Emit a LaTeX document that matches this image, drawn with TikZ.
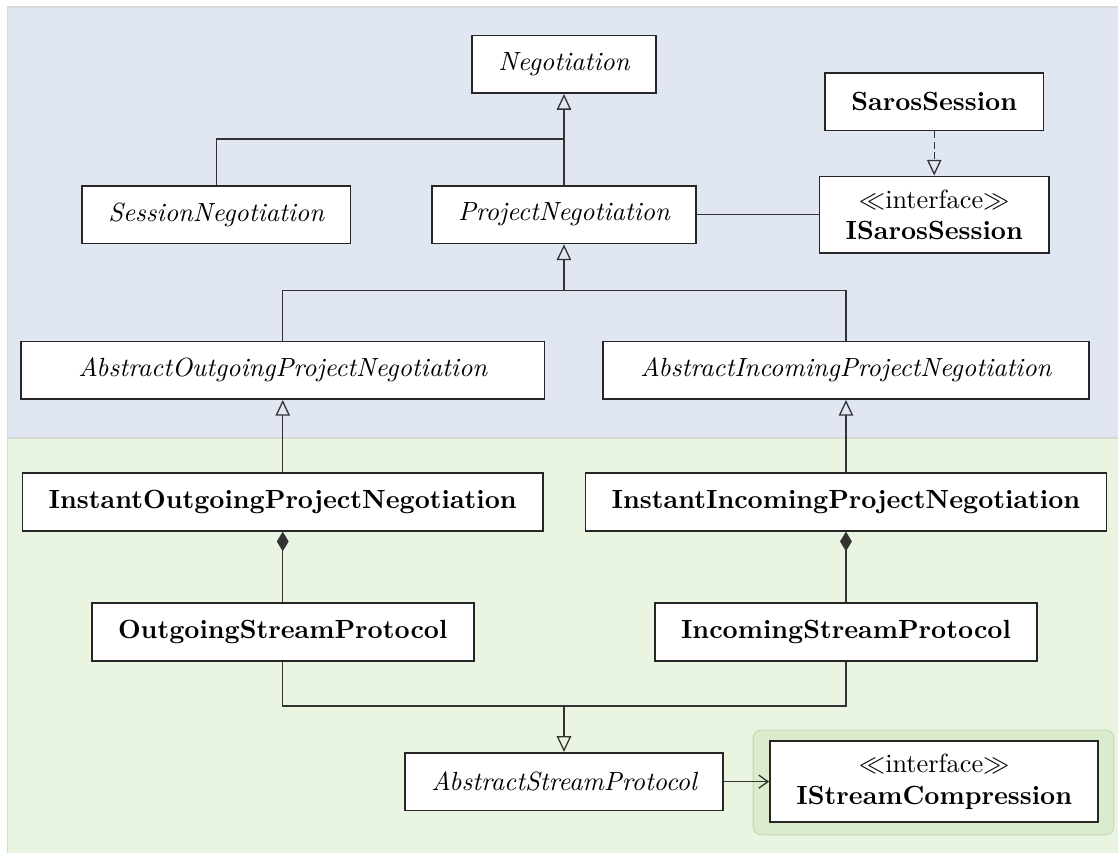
\documentclass[tikz,border=0pt]{standalone}
\usetikzlibrary{arrows.meta}
\definecolor{pkgblue}{RGB}{224,231,243}
\definecolor{pkggreen}{RGB}{233,245,225}
\definecolor{hlgreen}{RGB}{218,236,204}
\definecolor{hlborder}{RGB}{200,218,188}

\begin{document}
\begin{tikzpicture}[
    cls/.style={draw=black!85, line width=0.6pt, fill=white, align=center, inner xsep=10pt, inner ysep=6pt, minimum height=22pt},
    abscls/.style={cls, font=\itshape},
    impcls/.style={cls, font=\bfseries},
    ifcls/.style={cls, inner ysep=5pt},
    line/.style={draw=black!80, line width=0.5pt},
    inherit/.style={line, -{Triangle[open, length=6pt, width=5.5pt]}},
    realize/.style={inherit, dash pattern=on 2.5pt off 1.5pt},
    compose/.style={line, {Diamond[length=7.5pt, width=4.5pt]}-},
    usearrow/.style={line, -{Straight Barb[length=3.5pt, width=5pt]}}
]
\useasboundingbox (0,0) rectangle (14.947,-11.404);
\clip (0,0) rectangle (14.947,-11.404);

% Paquetes de fondo
\draw[black!15, fill=pkgblue] (0.094,-0.094) rectangle (15.5,-5.856);
\draw[black!15, fill=pkggreen] (0.094,-5.856) rectangle (15.5,-12);
\draw[hlborder, fill=hlgreen, rounded corners=3pt] (10.07,-9.76) rectangle (14.89,-11.16);

% Clases de la negociacion
\node[abscls] (negot)   at (7.54,-0.86) {Negotiation};
\node[impcls] (saros)   at (12.49,-1.36) {SarosSession};
\node[abscls] (sessneg) at (2.89,-2.87) {SessionNegotiation};
\node[abscls] (projneg) at (7.54,-2.87) {ProjectNegotiation};
\node[ifcls]  (isaros)  at (12.49,-2.87) {$\ll$interface$\gg$\\\textbf{ISarosSession}};

\node[abscls, minimum width=7.0cm] (absout) at (3.78,-4.95) {AbstractOutgoingProjectNegotiation};
\node[abscls, minimum width=6.5cm] (absin)  at (11.31,-4.95) {AbstractIncomingProjectNegotiation};

% Clases del flujo
\node[impcls] (instout) at (3.78,-6.71) {InstantOutgoingProjectNegotiation};
\node[impcls] (instin)  at (11.31,-6.71) {InstantIncomingProjectNegotiation};
\node[impcls] (outsp)   at (3.78,-8.45) {OutgoingStreamProtocol};
\node[impcls] (insp)    at (11.31,-8.45) {IncomingStreamProtocol};
\node[abscls] (abssp)   at (7.54,-10.45) {AbstractStreamProtocol};
\node[ifcls, line width=0.8pt] (istream) at (12.49,-10.45) {$\ll$interface$\gg$\\\textbf{IStreamCompression}};

% Puntos de union
\coordinate (jn1) at (7.54,-1.86);
\coordinate (jn2) at (7.54,-3.88);
\coordinate (jn3) at (7.54,-9.44);

% Herencia
\draw[line] (sessneg.north) |- (jn1);
\draw[inherit] (projneg.north) -- (negot.south);
\draw[realize] (saros.south) -- (isaros.north);
\draw[line] (projneg) -- (isaros);
\draw[line] (absout.north) |- (jn2);
\draw[line] (absin.north) |- (jn2);
\draw[inherit] (jn2) -- (projneg.south);
\draw[inherit] (instout.north) -- (absout.south);
\draw[inherit] (instin.north) -- (absin.south);

% Composicion y uso
\draw[compose] (instout.south) -- (outsp.north);
\draw[compose] (instin.south) -- (insp.north);
\draw[line] (outsp.south) |- (jn3);
\draw[line] (insp.south) |- (jn3);
\draw[inherit] (jn3) -- (abssp.north);
\draw[usearrow] (abssp) -- (istream);
\end{tikzpicture}
\end{document}
